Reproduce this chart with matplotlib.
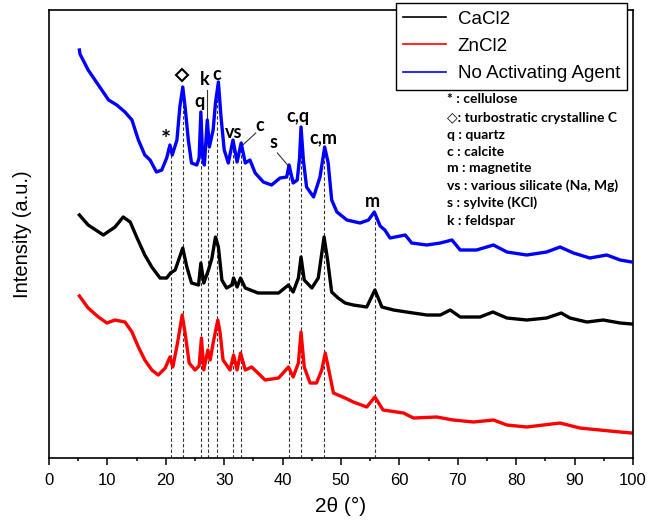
import numpy as np
import matplotlib
matplotlib.use("Agg")
import matplotlib.pyplot as plt

# 2theta (deg) and intensity (a.u., curves already offset)
blue_x = [5.2, 5.3, 6.7, 8.45, 10.2, 11.6, 13.0, 14.2, 15.3, 16.4, 17.3, 18.4, 19.3, 20.15,
          20.7, 21.1, 21.9, 22.4, 22.9, 23.3, 23.85, 24.4, 25.3, 25.7, 26.0, 26.3, 26.6,
          27.1, 27.45, 28.1, 28.5, 29.0, 29.45, 30.0, 30.7, 31.5, 32.2, 32.9, 33.6, 34.4,
          35.3, 36.7, 38.1, 39.55, 40.7, 41.1, 41.8, 42.5, 42.9, 43.15, 43.55, 44.1, 45.3,
          46.4, 47.2, 47.8, 48.4, 49.3, 51.0, 53.25, 54.7, 55.7, 56.7, 57.5, 58.4, 61.0,
          62.1, 64.7, 67.0, 69.0, 70.4, 73.2, 76.1, 78.4, 81.8, 85.2, 87.5, 89.8, 92.6,
          95.5, 97.8, 99.8]
blue_y = [408, 404, 388, 373, 358, 353, 346, 338, 318, 303, 298, 286, 288, 300,
          313, 303, 318, 351, 371, 351, 318, 295, 293, 300, 346, 301, 293,
          338, 311, 328, 355, 376, 341, 308, 295, 318, 296, 315, 295, 298,
          285, 276, 273, 280, 281, 293, 275, 278, 300, 331, 298, 271, 261,
          281, 311, 295, 258, 246, 238, 235, 238, 246, 232, 228, 220, 223,
          215, 213, 215, 218, 208, 208, 213, 206, 203, 206, 211, 205, 200,
          203, 198, 196]

black_x = [5.2, 6.7, 9.3, 11.3, 12.7, 13.9, 15.0, 16.4, 17.6, 19.0, 20.15, 20.8, 21.6,
           22.9, 23.6, 24.4, 25.6, 26.0, 26.5, 27.3, 27.9, 28.5, 29.0, 29.6, 30.4, 31.3,
           31.6, 32.2, 32.8, 33.6, 35.8, 39.3, 41.0, 41.8, 42.7, 43.15, 43.7, 45.0, 46.1,
           47.1, 47.7, 48.4, 49.5, 50.7, 52.1, 54.4, 55.8, 57.0, 59.0, 61.2, 64.7, 67.0,
           68.7, 70.4, 73.8, 76.0, 78.4, 81.8, 85.2, 87.7, 89.2, 92.1, 94.9, 97.8, 99.8]
black_y = [243, 233, 223, 231, 241, 236, 221, 203, 191, 180, 180, 185, 188,
           210, 191, 175, 173, 195, 175, 188, 200, 221, 211, 178, 170, 173,
           180, 171, 180, 170, 165, 165, 173, 166, 180, 201, 178, 170, 180,
           221, 198, 166, 160, 155, 153, 151, 168, 151, 148, 146, 143, 143,
           148, 141, 141, 146, 140, 138, 140, 145, 140, 136, 138, 135, 134]

red_x = [5.2, 6.7, 8.45, 9.9, 11.3, 13.0, 14.2, 15.3, 16.4, 17.6, 18.7, 19.9, 20.7, 21.2,
         22.0, 22.8, 23.3, 24.0, 25.0, 25.7, 26.1, 26.5, 27.2, 27.6, 28.1, 28.9, 29.3,
         29.8, 31.0, 31.6, 32.2, 32.8, 33.6, 34.7, 37.0, 39.3, 41.0, 41.8, 42.7, 43.15,
         43.7, 44.7, 45.8, 46.7, 47.3, 47.8, 48.7, 49.5, 50.7, 52.1, 54.4, 55.8, 57.2,
         60.7, 62.4, 66.4, 69.2, 72.7, 76.1, 78.4, 81.8, 87.5, 90.9, 94.3, 97.8, 99.8]
red_y = [162, 150, 141, 135, 138, 136, 126, 111, 98, 88, 83, 90, 101, 91,
         115, 143, 125, 95, 88, 92, 120, 88, 108, 98, 115, 138, 125,
         98, 88, 103, 88, 105, 88, 91, 78, 80, 91, 81, 95, 126,
         91, 75, 75, 88, 105, 91, 65, 63, 60, 56, 51, 61, 48,
         45, 40, 41, 38, 36, 38, 33, 31, 35, 30, 28, 26, 25]

# reference peak positions (dashed guides)
peak_pos = [20.9, 23.0, 26.1, 27.3, 28.75, 31.5, 32.9, 41.05, 43.15, 47.1, 55.85]

legend_labels = ["CaCl2", "ZnCl2", "No Activating Agent"]
key_lines = ["* : cellulose", "\u25c7: turbostratic crystalline C", "q : quartz",
             "c : calcite", "m : magnetite", "vs : various silicate (Na, Mg)",
             "s : sylvite (KCl)", "k : feldspar"]

plt.rcParams['font.family'] = ['Liberation Sans', 'DejaVu Sans']

fig = plt.figure(figsize=(6.52, 5.21), dpi=100)
ax = fig.add_axes([0.0752, 0.1209, 0.8957, 0.8599])

# dashed guides from the axis up to the blue trace
for p in peak_pos:
    top = np.interp(p, blue_x, blue_y)
    ax.plot([p, p], [0, top], ls=(0, (3, 2)), color='#333333', lw=0.8, zorder=1)

ax.plot(black_x, black_y, color='black', lw=2.4, label=legend_labels[0], zorder=2)
ax.plot(red_x, red_y, color='red', lw=2.4, label=legend_labels[1], zorder=2)
ax.plot(blue_x, blue_y, color='blue', lw=2.4, label=legend_labels[2], zorder=3)

# peak labels
lab_font = dict(family=['Lato', 'DejaVu Sans'], fontweight='bold', fontsize=13,
                ha='center', va='center')
ax.text(20.0, 318, "*", family=['Lato'], fontweight='bold', fontsize=17,
        ha='center', va='center')
ax.plot(22.8, 383, marker='D', ms=6, mfc='white', mec='black', mew=1.5, zorder=4)
ax.text(25.7, 357, "q", **lab_font)
ax.text(26.7, 379, "k", **lab_font)
ax.plot([27.1, 27.1], [368, 332], color='#333333', lw=0.8)
ax.text(28.8, 384, "c", **lab_font)
ax.text(31.6, 326, "vs", **lab_font)
ax.text(36.0, 333, "c", **lab_font)
ax.plot([35.4, 33.0], [325, 312], color='#333333', lw=0.8)
ax.text(38.4, 316, "s", **lab_font)
ax.plot([39.1, 41.0], [305, 292], color='#333333', lw=0.8)
ax.text(42.6, 342, "c,q", **lab_font)
ax.text(47.0, 320, "c,m", **lab_font)
ax.text(55.4, 257, "m", **lab_font)

# species key
key_y = [359, 340, 323, 306, 290, 272, 255, 237]
for txt, yy in zip(key_lines, key_y):
    ax.text(68.2, yy, txt, family=['Lato', 'DejaVu Sans'], fontweight='bold',
            fontsize=10, ha='left', va='center')

ax.set_xlim(0, 100)
ax.set_ylim(0, 448)
ax.set_xticks(np.arange(0, 101, 10))
ax.set_xticks(np.arange(5, 100, 10), minor=True)
ax.set_yticks([])
ax.tick_params(axis='x', which='major', direction='out', length=5, width=1.1,
               labelsize=12, pad=6)
ax.tick_params(axis='x', which='minor', direction='out', length=2.5, width=1.1)
for s in ax.spines.values():
    s.set_linewidth(1.2)

ax.set_xlabel("2\u03b8 (\u00b0)", fontsize=15, labelpad=6)
ax.set_ylabel("Intensity (a.u.)", fontsize=14.5, labelpad=12)

leg = ax.legend(loc='upper right', bbox_to_anchor=(0.99, 1.015), borderaxespad=0,
                fontsize=13.5, frameon=True, fancybox=False, edgecolor='black',
                framealpha=1, handlelength=2.3, labelspacing=0.55, borderpad=0.38,
                handletextpad=0.6)
leg.get_frame().set_linewidth(1.0)
for h in leg.get_lines():
    h.set_linewidth(1.2)

fig.savefig("out.png", dpi=100)
